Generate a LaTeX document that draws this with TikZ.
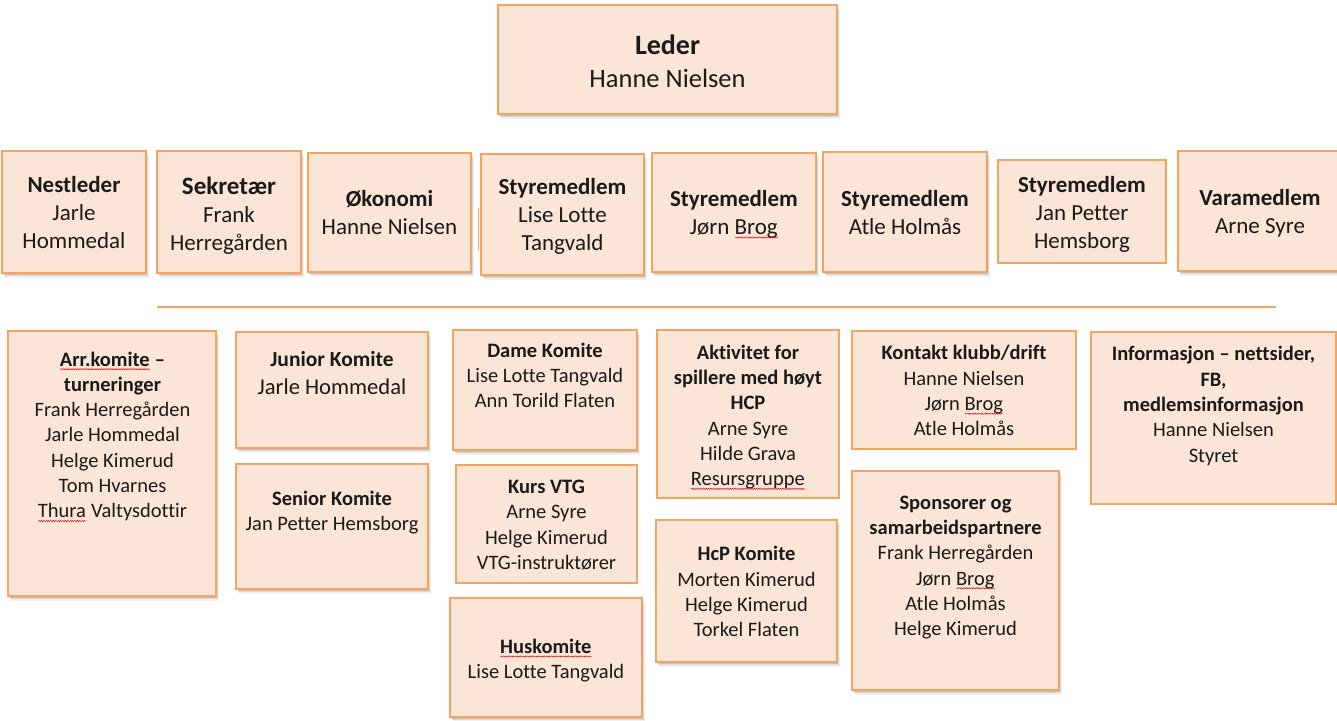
\documentclass[tikz,border=0pt]{standalone}
\usepackage{fontspec}
\setmainfont[Ligatures=NoCommon]{Carlito}
\usetikzlibrary{decorations.pathmorphing}
\definecolor{boxfill}{HTML}{FBE5D6}
\definecolor{bord}{HTML}{F4A460}
\definecolor{txtc}{HTML}{1A1A1A}
\newsavebox\sqbox
\newlength\sqlen
\newcommand\sq[1]{\sbox\sqbox{#1}\setlength\sqlen{\wd\sqbox}\rlap{\usebox\sqbox}\tikz[baseline=0pt]{\path (0pt,0pt) (\sqlen,0pt);\draw[red!85!black, line width=0.45pt, decorate, decoration={snake, amplitude=0.6pt, segment length=2.4pt}] (0pt,-3.2pt) -- (\sqlen,-3.2pt);}}
\newcommand\hd[1]{\textbf{#1}}
\begin{document}
\begin{tikzpicture}[x=1pt,y=-1pt,
  orgbox/.style={draw=bord, fill=boxfill, line width=1.3pt, inner sep=0pt},
  shad/.style={preaction={fill=black, opacity=0.10, transform canvas={xshift=1pt, yshift=-1.5pt}},
               preaction={fill=black, opacity=0.10, transform canvas={xshift=2pt, yshift=-3pt}},
               preaction={fill=black, opacity=0.06, transform canvas={xshift=3pt, yshift=-4.5pt}}},
  lbl/.style={align=center, inner sep=0pt, text=txtc, yshift=-4.5pt, execute at begin node=\strut, execute at end node=\strut},
  toptxt/.style={lbl, font=\fontsize{23}{28}\selectfont},
  bottxt/.style={lbl, font=\fontsize{20.5}{25.3}\selectfont},
  divider/.style={draw=bord, line width=1.4pt}
]
\useasboundingbox (0,0) rectangle (1337,720);

% top level
\node[orgbox, shad, minimum width=339pt, minimum height=109pt] (leder) at (667.5,59.5) {};
\node[lbl, font=\fontsize{26.5}{33}\selectfont] (lederT) at (667.5,61.5) {{\bfseries\fontsize{28}{33}\selectfont Leder}\\Hanne Nielsen};

% board row
\node[orgbox, shad, minimum width=144pt, minimum height=122pt] (nest) at (74,212) {};
\node[toptxt] (nestT) at (74,212) {\hd{Nestleder}\\Jarle\\Hommedal};

\node[orgbox, shad, minimum width=144pt, minimum height=122pt] (sekr) at (229,212) {};
\node[toptxt] (sekrT) at (229,213) {{\bfseries\fontsize{25}{28}\selectfont Sekretær}\\Frank\\Herregården};

\coordinate (hidA) at (478,208);
\coordinate (hidB) at (478,250);
\draw[draw=bord, line width=1pt] (hidA) -- (hidB);

\node[orgbox, shad, minimum width=163pt, minimum height=119pt] (okon) at (389.5,212.5) {};
\node[toptxt] (okonT) at (389.5,212) {\hd{Økonomi}\\Hanne Nielsen};

\node[orgbox, shad, minimum width=163pt, minimum height=121pt] (sty1) at (562.5,214.5) {};
\node[toptxt] (sty1T) at (562.5,214) {\hd{Styremedlem}\\Lise Lotte\\Tangvald};

\node[orgbox, shad, minimum width=164pt, minimum height=119pt] (sty2) at (734,212.5) {};
\node[toptxt] (sty2T) at (734,212) {\hd{Styremedlem}\\Jørn \sq{Brog}};

\node[orgbox, shad, minimum width=164pt, minimum height=120pt] (sty3) at (905,212) {};
\node[toptxt] (sty3T) at (905,212) {\hd{Styremedlem}\\Atle Holmås};

\node[orgbox, minimum width=168pt, minimum height=103pt] (sty4) at (1082,211.5) {};
\node[toptxt] (sty4T) at (1082,212) {\hd{Styremedlem}\\Jan Petter\\Hemsborg};

\node[orgbox, shad, minimum width=170pt, minimum height=120pt] (vara) at (1263,211) {};
\node[toptxt] (varaT) at (1260,211) {\hd{Varamedlem}\\Arne Syre};

% divider
\coordinate (divL) at (157,307);
\coordinate (divR) at (1276,307);
\draw[divider] (divL) -- (divR);

% committees
\node[orgbox, shad, minimum width=208pt, minimum height=265pt] (arr) at (112,463.5) {};
\node[bottxt] (arrT) at (112.5,434) {\hd{\sq{Arr.komite} –}\\\hd{turneringer}\\Frank Herregården\\Jarle Hommedal\\Helge Kimerud\\Tom Hvarnes\\\sq{Thura} Valtysdottir};

\node[orgbox, shad, minimum width=192pt, minimum height=116pt] (jun) at (332,390) {};
\node[lbl, font=\fontsize{22.6}{28}\selectfont] (junT) at (332,373) {{\bfseries\fontsize{21.5}{28}\selectfont Junior Komite}\\Jarle Hommedal};

\node[orgbox, shad, minimum width=192pt, minimum height=125pt] (sen) at (332,526.5) {};
\node[bottxt] (senT) at (332,510) {\hd{Senior Komite}\\Jan Petter Hemsborg};

\node[orgbox, shad, minimum width=184pt, minimum height=120pt] (dame) at (545,390) {};
\node[bottxt] (dameT) at (545,374.5) {\hd{Dame Komite}\\Lise Lotte Tangvald\\Ann Torild Flaten};

\node[orgbox, minimum width=181pt, minimum height=118pt] (kurs) at (546.5,524) {};
\node[bottxt] (kursT) at (546.5,524) {\hd{Kurs VTG}\\Arne Syre\\Helge Kimerud\\VTG-instruktører};

\node[orgbox, shad, minimum width=192pt, minimum height=119pt] (hus) at (546,657.5) {};
\node[bottxt] (husT) at (546,658) {\hd{\sq{Huskomite}}\\Lise Lotte Tangvald};

\node[orgbox, minimum width=182pt, minimum height=168pt] (akt) at (748,414) {};
\node[bottxt] (aktT) at (748,414.5) {\hd{Aktivitet for}\\\hd{spillere med høyt}\\\hd{HCP}\\Arne Syre\\Hilde Grava\\\sq{Resursgruppe}};

\node[orgbox, shad, minimum width=181pt, minimum height=142pt] (hcp) at (746.5,591) {};
\node[bottxt] (hcpT) at (746.5,591) {\hd{HcP Komite}\\Morten Kimerud\\Helge Kimerud\\Torkel Flaten};

\node[orgbox, minimum width=224pt, minimum height=118pt] (kont) at (964,390) {};
\node[bottxt] (kontT) at (964,390) {\hd{Kontakt klubb/drift}\\Hanne Nielsen\\Jørn \sq{Brog}\\Atle Holmås};

\node[orgbox, shad, minimum width=207pt, minimum height=219pt] (spon) at (955.5,580.5) {};
\node[bottxt] (sponT) at (955.5,565) {\hd{Sponsorer og}\\\hd{samarbeidspartnere}\\Frank Herregården\\Jørn \sq{Brog}\\Atle Holmås\\Helge Kimerud};

\node[orgbox, minimum width=245pt, minimum height=172pt] (info) at (1213.5,418) {};
\node[bottxt] (infoT) at (1213.5,403.5) {\hd{Informasjon – nettsider,}\\\hd{FB,}\\\hd{medlemsinformasjon}\\Hanne Nielsen\\Styret};
\end{tikzpicture}
\end{document}
